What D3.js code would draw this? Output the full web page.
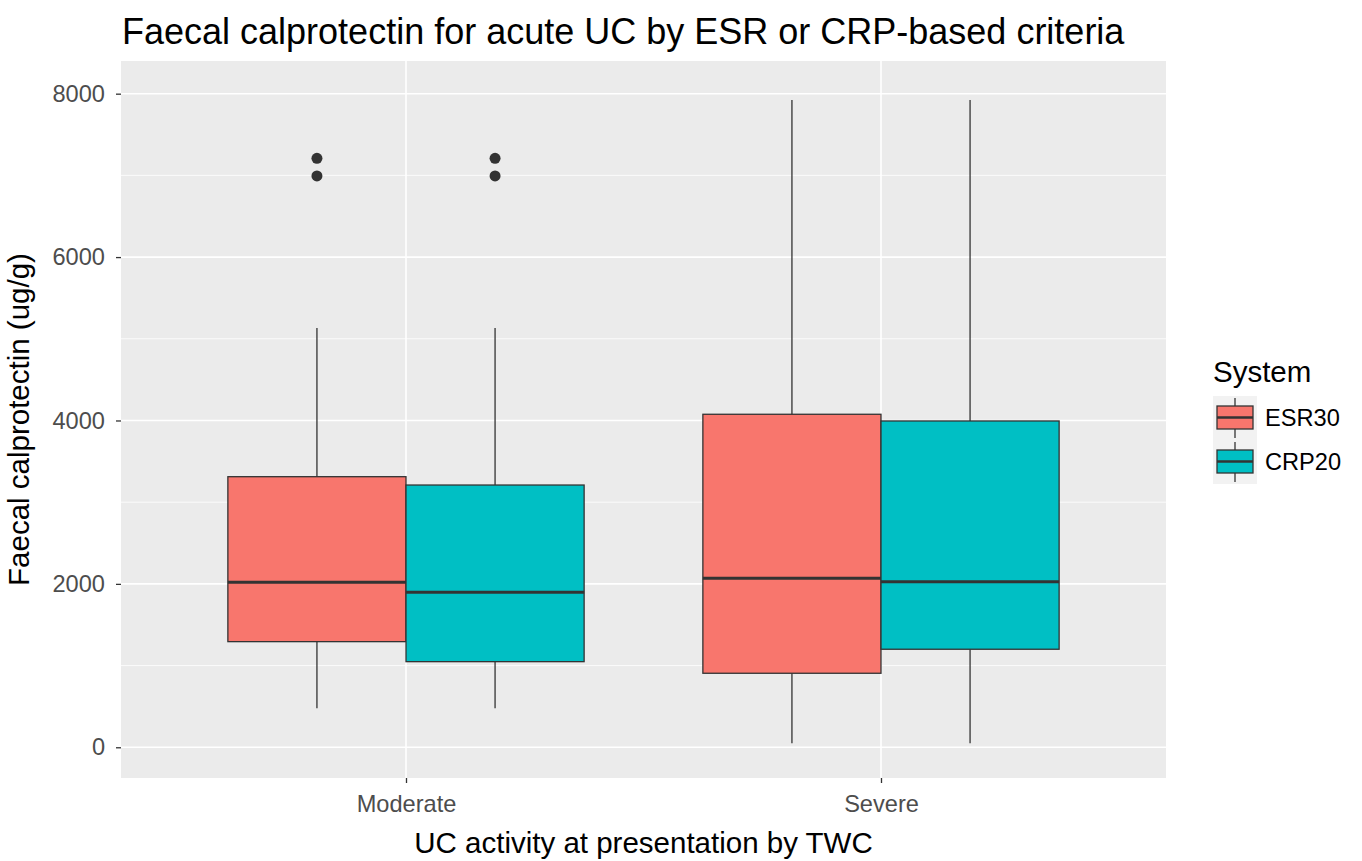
<!DOCTYPE html>
<html>
<head>
<meta charset="utf-8">
<script src="https://cdn.jsdelivr.net/npm/d3@7"></script>
<style>
  body { margin: 0; background: #fff; }
  text { font-family: "Liberation Sans", Arial, sans-serif; }
</style>
</head>
<body>
<svg id="chart" width="1362" height="861"></svg>
<script>
// categories and groups
const activity = ["Moderate", "Severe"];
const systems = ["ESR30", "CRP20"];
const colors = ["#F8766D", "#00BFC4"];

// box stats, order: Moderate ESR, Moderate CRP, Severe ESR, Severe CRP
const lowWhisker = [477, 477, 49, 49];
const q1 = [1293, 1048, 906, 1200];
const median = [2020, 1897, 2069, 2027];
const q3 = [3312, 3210, 4076, 3994];
const highWhisker = [5132, 5132, 7923, 7923];
const outliers = [[6993, 7209], [6993, 7209], [], []];

const yTicks = [0, 2000, 4000, 6000, 8000];
const yMinor = [1000, 3000, 5000, 7000];

const boxes = activity.flatMap((a, i) => systems.map((s, j) => {
  const k = i * 2 + j;
  return {
    activity: a, system: s, color: colors[j],
    lo: lowWhisker[k], q1: q1[k], med: median[k], q3: q3[k], hi: highWhisker[k],
    out: outliers[k]
  };
}));

const svg = d3.select("#chart");
const panel = { left: 121, right: 1166, top: 61, bottom: 778 };

// discrete x like ggplot: 0.6 expansion each side, dodge width 0.75
const x = d3.scalePoint()
  .domain(activity)
  .range([panel.left, panel.right])
  .padding(0.6);
const groupW = x.step() * 0.75;
const xSub = d3.scaleBand()
  .domain(systems)
  .range([-groupW / 2, groupW / 2]);
const y = d3.scaleLinear()
  .domain([-376, 8400])
  .range([panel.bottom, panel.top]);

// panel background + grid
svg.append("rect")
  .attr("x", panel.left).attr("y", panel.top)
  .attr("width", panel.right - panel.left)
  .attr("height", panel.bottom - panel.top)
  .attr("fill", "#EBEBEB");

svg.append("g").selectAll("line")
  .data(yMinor)
  .join("line")
  .attr("x1", panel.left).attr("x2", panel.right)
  .attr("y1", d => y(d)).attr("y2", d => y(d))
  .attr("stroke", "#fff").attr("stroke-width", 0.8);

svg.append("g").selectAll("line")
  .data(yTicks)
  .join("line")
  .attr("x1", panel.left).attr("x2", panel.right)
  .attr("y1", d => y(d)).attr("y2", d => y(d))
  .attr("stroke", "#fff").attr("stroke-width", 1.6);

svg.append("g").selectAll("line")
  .data(activity)
  .join("line")
  .attr("x1", d => x(d)).attr("x2", d => x(d))
  .attr("y1", panel.top).attr("y2", panel.bottom)
  .attr("stroke", "#fff").attr("stroke-width", 1.6);

// boxplots
const g = svg.append("g").selectAll("g")
  .data(boxes)
  .join("g")
  .attr("transform", d => `translate(${x(d.activity) + xSub(d.system)},0)`);

const bw = xSub.bandwidth();

g.append("line")
  .attr("x1", bw / 2).attr("x2", bw / 2)
  .attr("y1", d => y(d.hi)).attr("y2", d => y(d.q3))
  .attr("stroke", "#333").attr("stroke-width", 1.3);
g.append("line")
  .attr("x1", bw / 2).attr("x2", bw / 2)
  .attr("y1", d => y(d.q1)).attr("y2", d => y(d.lo))
  .attr("stroke", "#333").attr("stroke-width", 1.3);
g.append("rect")
  .attr("x", 0).attr("width", bw)
  .attr("y", d => y(d.q3))
  .attr("height", d => y(d.q1) - y(d.q3))
  .attr("fill", d => d.color)
  .attr("stroke", "#333").attr("stroke-width", 1.3);
g.append("line")
  .attr("x1", 0).attr("x2", bw)
  .attr("y1", d => y(d.med)).attr("y2", d => y(d.med))
  .attr("stroke", "#333").attr("stroke-width", 3);
g.selectAll("circle")
  .data(d => d.out)
  .join("circle")
  .attr("cx", bw / 2)
  .attr("cy", d => y(d))
  .attr("r", 5.5)
  .attr("fill", "#333");

// axes
const yAxis = svg.append("g")
  .attr("transform", `translate(${panel.left},0)`)
  .call(d3.axisLeft(y).tickValues(yTicks).tickSize(5).tickPadding(11).tickFormat(d3.format("d")));
const xAxis = svg.append("g")
  .attr("transform", `translate(0,${panel.bottom})`)
  .call(d3.axisBottom(x).tickSize(5).tickPadding(12));
[yAxis, xAxis].forEach(a => {
  a.select(".domain").remove();
  a.selectAll(".tick line").attr("stroke", "#333").attr("stroke-width", 1.3);
  a.selectAll(".tick text")
    .attr("fill", "#4D4D4D")
    .style("font-size", "23.6px")
    .style("font-family", "'Liberation Sans', Arial, sans-serif");
});

// titles
svg.append("text")
  .attr("x", 122).attr("y", 44)
  .style("font-size", "36px")
  .attr("fill", "#000")
  .text("Faecal calprotectin for acute UC by ESR or CRP-based criteria");

svg.append("text")
  .attr("x", (panel.left + panel.right) / 2).attr("y", 853)
  .attr("text-anchor", "middle")
  .style("font-size", "29.5px")
  .text("UC activity at presentation by TWC");

svg.append("text")
  .attr("transform", `translate(29,${(panel.top + panel.bottom) / 2}) rotate(-90)`)
  .attr("text-anchor", "middle")
  .style("font-size", "29.5px")
  .text("Faecal calprotectin (ug/g)");

// legend
const legend = svg.append("g").attr("transform", "translate(1213,0)");
legend.append("text")
  .attr("x", 0).attr("y", 382)
  .style("font-size", "29.5px")
  .text("System");

const keys = legend.selectAll("g.key")
  .data(systems)
  .join("g")
  .attr("class", "key")
  .attr("transform", (d, i) => `translate(0,${396 + i * 44})`);
keys.append("rect")
  .attr("width", 44).attr("height", 44)
  .attr("fill", "#F2F2F2");
keys.append("line")
  .attr("x1", 22).attr("x2", 22).attr("y1", 2).attr("y2", 42)
  .attr("stroke", "#333").attr("stroke-width", 1.3);
keys.append("rect")
  .attr("x", 4).attr("y", 10).attr("width", 36).attr("height", 23)
  .attr("fill", (d, i) => colors[i])
  .attr("stroke", "#333").attr("stroke-width", 1.3);
keys.append("line")
  .attr("x1", 4).attr("x2", 40).attr("y1", 21.5).attr("y2", 21.5)
  .attr("stroke", "#333").attr("stroke-width", 2.6);
keys.append("text")
  .attr("x", 52).attr("y", 22).attr("dy", "0.35em")
  .style("font-size", "23.6px")
  .text(d => d);
</script>
</body>
</html>
